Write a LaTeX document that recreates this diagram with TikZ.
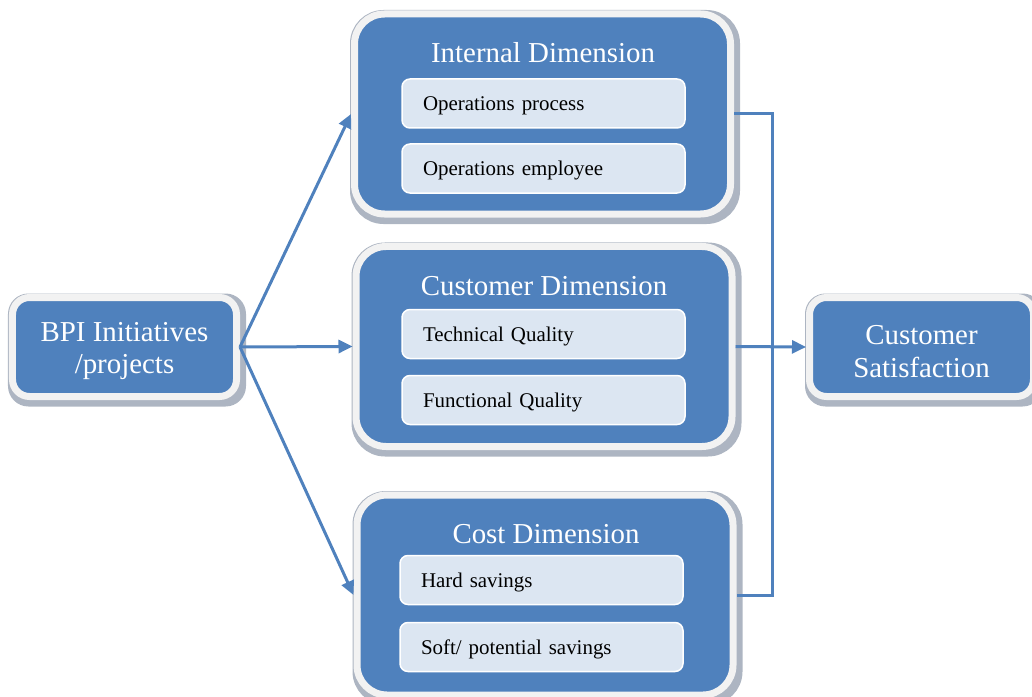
\documentclass[tikz,border=0pt]{standalone}
\usepackage{fontspec}
\setmainfont{Liberation Serif}
\usetikzlibrary{arrows.meta,backgrounds}
\definecolor{boxblue}{HTML}{4F81BD}
\definecolor{framec}{HTML}{F2F2F2}
\definecolor{subfill}{HTML}{DCE6F2}
\definecolor{shadowc}{HTML}{ADB5C2}
\definecolor{linec}{HTML}{4F81BD}
\begin{document}
\begin{tikzpicture}[x=1bp,y=-1bp,
  bigbox/.style={draw=framec, fill=boxblue, line width=7bp, rounded corners=30bp,
    minimum width=376bp, minimum height=200bp, inner sep=0pt},
  endbox/.style={draw=framec, fill=boxblue, line width=7bp, rounded corners=17bp,
    minimum width=224bp, minimum height=99bp, inner sep=0pt},
  endtext/.style={text=white, align=center, inner sep=0pt,
    font=\fontsize{29}{33}\selectfont},
  titletext/.style={text=white, font=\fontsize{29}{33}\selectfont, anchor=base, inner sep=0pt},
  subbox/.style={draw=white, fill=subfill, line width=1.5bp, rounded corners=8bp,
    minimum width=283bp, minimum height=49bp, text width=241bp, align=left,
    inner xsep=21bp, inner ysep=0pt, text height=19bp, text depth=5bp,
    font=\fontsize{21}{25}\selectfont},
  conn/.style={draw=linec, line width=3bp},
  arr/.style={conn, -{Triangle[length=14bp,width=13bp]}}
]
\useasboundingbox (0,0) rectangle (1032,697);

% main boxes
\node[bigbox] (int) at (542.5,114) {};
\node[bigbox] (cus) at (544,346.5) {};
\node[bigbox] (cost) at (545,595) {};
\node[endbox] (bpi) at (124.5,347) {};
\node[endbox] (cs) at (921.5,347) {};
\node[endtext] (bpit) at (124.5,351) {BPI Initiatives\\/projects};
\node[endtext] (cst) at (921.5,352) {Customer\\Satisfaction};

% shadows
\begin{scope}[on background layer]
\foreach \n/\r in {int/30,cus/30,cost/30,bpi/17,cs/17}{
  \draw[shadowc, fill=shadowc, line width=7bp, rounded corners=\r bp]
    ([shift={(2.5,3)}]\n.south west) rectangle ([shift={(2.5,3)}]\n.north east);
}
\end{scope}

% titles
\node[titletext] (intt) at (543,63) {Internal Dimension};
\node[titletext] (cust) at (544,295) {Customer Dimension};
\node[titletext] (costt) at (546,543) {Cost Dimension};

% sub boxes
\node[subbox] (op) at (543.5,103.5) {Operations process};
\node[subbox] (oe) at (543.5,168.5) {Operations employee};
\node[subbox] (tq) at (543.5,334) {Technical Quality};
\node[subbox] (fq) at (543.5,400) {Functional Quality};
\node[subbox] (hs) at (541.5,580) {Hard savings};
\node[subbox] (ss) at (541.5,647) {Soft/ potential savings};

% connectors
\coordinate (bus) at (772,0);
\draw[arr] (bpi.east) -- (int.west);
\draw[arr] (bpi.east) -- (cus.west);
\draw[arr] (bpi.east) -- (cost.west);
\draw[arr] (cus.east) -- (cs.west);
\draw[conn] (int.east) -- (int.east -| bus) -- (cost.east -| bus) -- (cost.east);
\end{tikzpicture}
\end{document}
